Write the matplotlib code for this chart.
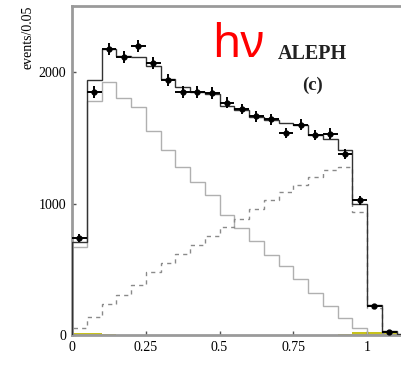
import matplotlib
matplotlib.use("Agg")
import matplotlib.pyplot as plt
import numpy as np

# bin edges (width 0.05)
bin_edges = np.round(np.arange(0, 1.151, 0.05), 2)

# total MC (dark solid)
total_mc = [705, 1940, 2175, 2120, 2115, 2045, 1950, 1885, 1850, 1830, 1745, 1712,
            1658, 1635, 1612, 1595, 1521, 1488, 1407, 996, 228, 30, 5]
# decreasing component (light solid)
comp_a = [670, 1779, 1924, 1805, 1736, 1553, 1407, 1277, 1166, 1062, 916, 816,
          713, 608, 527, 426, 319, 223, 132, 53, 0, 0, 0]
# increasing component (dashed)
comp_b = [53, 137, 236, 304, 380, 479, 550, 618, 684, 755, 822, 882,
          962, 1027, 1087, 1141, 1202, 1255, 1278, 935, 205, 15, 0]
# small background (yellow)
comp_bg = [18, 15, 10, 0, 0, 0, 0, 0, 0, 0, 0, 0,
           0, 0, 0, 0, 0, 0, 5, 22, 22, 18, 0]

# data points
data_x = [0.025, 0.075, 0.125, 0.175, 0.225, 0.275, 0.325, 0.375, 0.425, 0.475, 0.525,
          0.575, 0.625, 0.675, 0.725, 0.775, 0.825, 0.875, 0.925, 0.975, 1.025, 1.075]
data_y = [738, 1848, 2175, 2114, 2198, 2068, 1939, 1848, 1848, 1840, 1765,
          1719, 1662, 1641, 1538, 1600, 1521, 1532, 1375, 1023, 220, 24]
data_err = [27, 43, 47, 46, 47, 45, 44, 43, 43, 43, 42,
            41, 41, 41, 39, 40, 39, 39, 37, 32, 15, 5]

plt.rcParams['font.family'] = ['Liberation Serif', 'DejaVu Serif']

fig = plt.figure(figsize=(4.02, 3.70), dpi=100)
ax = fig.add_axes([72 / 402, 1 - 335 / 370, 330 / 402, 329 / 370])

ax.stairs(comp_bg, bin_edges, fill=True, color='#c8c21c', zorder=1)
ax.stairs(comp_a, bin_edges, color='#b0b0b0', linewidth=1.0, zorder=2)
ax.stairs(comp_b, bin_edges, color='#8a8a8a', linewidth=1.0, linestyle=(0, (3, 3)), zorder=2)
ax.stairs(total_mc, bin_edges, color='#333333', linewidth=1.0, zorder=3)

ax.errorbar(data_x, data_y, xerr=0.025, yerr=data_err, fmt='o', color='black',
            markersize=3.5, elinewidth=1.4, capsize=0, zorder=4)

ax.set_xlim(0, 1.1186)
ax.set_ylim(0, 2502)
ax.set_xticks([0, 0.25, 0.5, 0.75, 1])
ax.set_xticklabels(['0', '0.25', '0.5', '0.75', '1'])
ax.set_yticks([0, 1000, 2000])
ax.set_yticklabels(['0', '1000', '2000'])
ax.tick_params(direction='in', length=3, width=1, color='#555555', labelsize=10, pad=4)

for side in ['left', 'bottom', 'top']:
    ax.spines[side].set_color('#9a9a9a')
    ax.spines[side].set_linewidth(2)
ax.spines['right'].set_visible(False)

ax.set_ylabel('events/0.05', loc='top', fontsize=10)
ax.yaxis.set_label_coords(-0.115, 1.0)

ax.text(0.625, 0.84, 'ALEPH', transform=ax.transAxes, fontsize=14.5, fontweight='bold',
        color='#222222', ha='left', va='baseline')
ax.text(0.696, 0.745, '(c)', transform=ax.transAxes, fontsize=13.5, fontweight='bold',
        color='#222222', ha='left', va='baseline')
fig.text(212 / 402, 1 - 57 / 370, 'hν', color='red', fontsize=33,
         family=['Noto Sans', 'DejaVu Sans'], ha='left', va='baseline')

fig.savefig('out.png', dpi=100)
